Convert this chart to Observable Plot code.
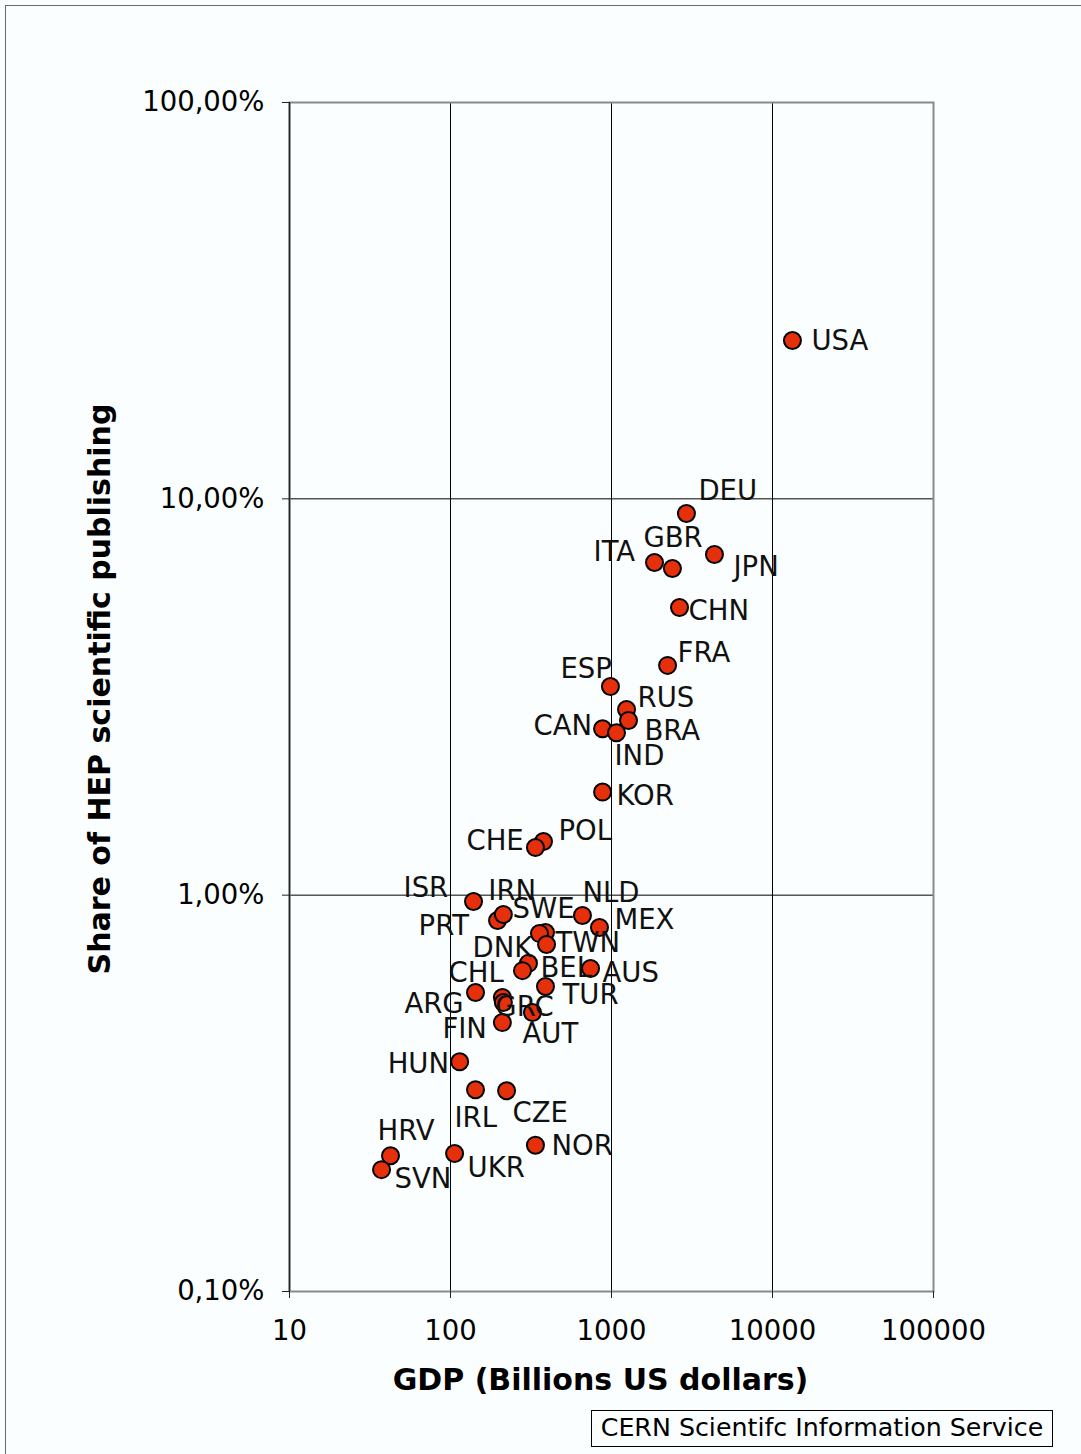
<!DOCTYPE html>
<html>
<head>
<meta charset="utf-8">
<script src="https://cdn.jsdelivr.net/npm/d3@7"></script>
<script src="https://cdn.jsdelivr.net/npm/@observablehq/plot@0.6"></script>
<style>
  html, body { margin: 0; padding: 0; background: #fbfefe; }
  body { width: 1081px; height: 1454px; position: relative; overflow: hidden; font-family: "DejaVu Sans", Verdana, sans-serif; }
  #sheet { position: absolute; left: 5px; top: 5px; width: 1200px; height: 1600px; border: 1.5px solid #6a6a6a; box-sizing: border-box; pointer-events: none; }
  #chart { position: absolute; left: 0; top: 0; }
  #source { position: absolute; left: 591px; top: 1410px; width: 462px; height: 37px; box-sizing: border-box; border: 1.5px solid #000; background: #fbfefe; font-size: 25.3px; line-height: 34px; text-align: center; color: #000; white-space: nowrap; }
</style>
</head>
<body>
<div id="sheet"></div>
<div id="chart"></div>
<div id="source">CERN Scientifc Information Service</div>
<script>
// Country codes (ISO-3); an empty string marks a point drawn without a label
const countries = ["USA", "DEU", "ITA", "GBR", "JPN", "CHN", "FRA", "ESP", "RUS", "BRA",
  "CAN", "IND", "KOR", "POL", "CHE", "ISR", "PRT", "IRN", "SWE", "", "TWN", "NLD", "MEX",
  "DNK", "BEL", "AUS", "TUR", "CHL", "ARG", "GRC", "AUT", "FIN", "HUN", "IRL", "CZE",
  "HRV", "SVN", "UKR", "NOR"];

// GDP, billions of US dollars
const gdp = [13300, 2920, 1850, 2390, 4360, 2645, 2230, 985, 1240, 1275,
  880, 1074, 880, 378, 337, 139, 196, 213, 389, 357, 395, 660, 842,
  305, 280, 741, 389, 143, 210, 213, 323, 210, 114, 143, 223,
  42.4, 37.3, 106, 337];

// Share of HEP scientific publishing, percent
const hepShare = [25.1, 9.18, 6.91, 6.67, 7.24, 5.32, 3.80, 3.36, 2.94, 2.76,
  2.63, 2.57, 1.82, 1.366, 1.319, 0.964, 0.863, 0.894, 0.805, 0.800, 0.751, 0.889, 0.829,
  0.673, 0.645, 0.653, 0.588, 0.568, 0.552, 0.536, 0.506, 0.477, 0.380, 0.323, 0.321,
  0.220, 0.203, 0.223, 0.234];

// Axis ticks
const xTicks = [10, 100, 1000, 10000, 100000];
const yTicks = [0.1, 1, 10, 100];

const xTitle = "GDP (Billions US dollars)";
const yTitle = "Share of HEP scientific publishing";

// Where each country label sits relative to its marker (left edge, vertical middle), px
const labelOffset = {
  USA: [19, 1], DEU: [12, -22], ITA: [-61, -10], GBR: [-29, -30], JPN: [19, 13],
  CHN: [9, 4], FRA: [10, -12], ESP: [-50, -17], RUS: [11, -11], BRA: [16, 11],
  CAN: [-69, -3], IND: [-2, 23], KOR: [14, 4], POL: [15, -10], CHE: [-69, -6],
  ISR: [-70, -13], IRN: [-15, -23], NLD: [0, -22], SWE: [-33, -23], PRT: [-79, 6],
  MEX: [15, -7], DNK: [-56, -15], TWN: [9, -1], BEL: [18, -2], CHL: [-27, -19],
  AUS: [12, 5], ARG: [-98, 7], TUR: [17, 9], GRC: [-8, 5], FIN: [-60, 7],
  AUT: [-10, 22], HUN: [-72, 2], IRL: [-21, 29], CZE: [6, 22], HRV: [-13, -25],
  SVN: [13, 10], UKR: [13, 15], NOR: [16, 1]
};

const rows = countries.map((c, i) => ({country: c, gdp: gdp[i], share: hepShare[i]}));

const pct = d => d.toFixed(2).replace(".", ",") + "%";

const labelMarks = rows
  .filter(r => r.country !== "")
  .map(r => Plot.text([r], {
    x: "gdp", y: "share", text: "country",
    dx: labelOffset[r.country][0], dy: labelOffset[r.country][1],
    textAnchor: "start", fontSize: 27.5, fill: "#111"
  }));

const chart = Plot.plot({
  width: 1081,
  height: 1400,
  marginLeft: 289,
  marginRight: 148,
  marginTop: 102,
  marginBottom: 109,
  style: {background: "transparent", fontFamily: "'DejaVu Sans', Verdana, sans-serif", fontSize: "27.5px", color: "#000", overflow: "visible"},
  x: {type: "log", domain: [10, 100000]},
  y: {type: "log", domain: [0.1, 100]},
  marks: [
    Plot.gridX(xTicks.slice(1, -1), {stroke: "#000", strokeOpacity: 1, strokeWidth: 1}),
    Plot.gridY(yTicks.slice(1, -1), {stroke: "#000", strokeOpacity: 1, strokeWidth: 1}),
    Plot.frame({stroke: "#8a8a8a", strokeWidth: 2}),
    Plot.ruleX([10], {stroke: "#222", strokeWidth: 1.5}),
    Plot.axisX(xTicks, {tickSize: 7, tickPadding: 22, tickFormat: d => String(d), fontSize: 27.5, stroke: "#222", label: null}),
    Plot.axisY(yTicks, {tickSize: 7, tickPadding: 18, tickFormat: pct, fontSize: 27.5, stroke: "#222", label: null}),
    Plot.dot(rows, {x: "gdp", y: "share", r: 8.5, fill: "#e6300c", stroke: "#000", strokeWidth: 2}),
    ...labelMarks,
    Plot.text([xTitle], {frameAnchor: "bottom", lineAnchor: "middle", dx: -11, dy: 89, fontSize: 30, fontWeight: "bold", fill: "#000"}),
    Plot.text([yTitle], {frameAnchor: "left", textAnchor: "middle", dx: -189, dy: -8, rotate: -90, fontSize: 30, fontWeight: "bold", fill: "#000"})
  ]
});

document.getElementById("chart").appendChild(chart);
</script>
</body>
</html>
